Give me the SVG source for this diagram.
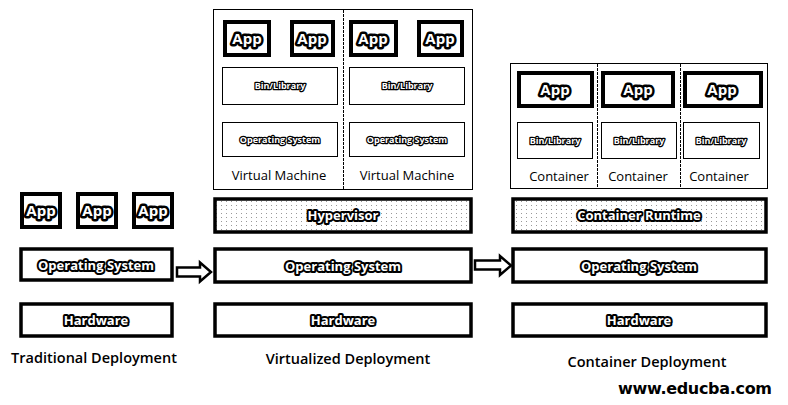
<svg xmlns="http://www.w3.org/2000/svg" width="788" height="405" viewBox="0 0 788 405">
<style>
.bg{fill:#fff}
.thin{fill:#fff;stroke:#000;stroke-width:1}
.layer{fill:#fff;stroke:#000;stroke-width:3.5}
.dotted{fill:url(#dots);stroke:#000;stroke-width:3.5}
.appbox{fill:#fff;stroke:#000;stroke-width:4}
.lbl{font-family:"Open Sans","Noto Sans",sans-serif;font-weight:bold;fill:#fff;stroke:#000;stroke-linejoin:round;paint-order:stroke;text-anchor:middle}
.big{font-size:13px;stroke-width:4}
.app{font-size:15px;stroke-width:5}
.small{font-size:9px;stroke-width:2.5}
.cap{font-family:"Open Sans","Noto Sans",sans-serif;font-size:13px;fill:#000;text-anchor:middle}
.title{font-family:"Open Sans","Noto Sans",sans-serif;font-size:14.5px;font-weight:600;fill:#000;text-anchor:middle}
.div{stroke:#000;stroke-width:1;stroke-dasharray:3 1}
.arrow{fill:#fff;stroke:#000;stroke-width:2.5;stroke-linejoin:miter}
</style>
<defs>
<pattern id="dots" width="5" height="4" patternUnits="userSpaceOnUse">
<rect width="5" height="4" fill="#fff"/>
<rect x="1" y="1" width="1" height="1" fill="#999"/>
</pattern>
</defs>
<rect class="bg" width="788" height="405"/>

<g id="traditional">
<g id="t-app1"><rect class="appbox" x="22" y="194" width="38" height="33"/><text class="lbl app" x="41" y="216">App</text></g>
<g id="t-app2"><rect class="appbox" x="78" y="194" width="38" height="33"/><text class="lbl app" x="97" y="216">App</text></g>
<g id="t-app3"><rect class="appbox" x="134" y="194" width="38" height="33"/><text class="lbl app" x="153" y="216">App</text></g>
<g id="t-os"><rect class="layer" x="21" y="249" width="151" height="31"/><text class="lbl big" x="96" y="270">Operating System</text></g>
<g id="t-hw"><rect class="layer" x="21" y="304" width="151" height="32"/><text class="lbl big" x="96" y="325">Hardware</text></g>
<text class="title" x="94" y="363">Traditional Deployment</text>
</g>

<g id="virtualized">
<g id="vm-box"><rect class="thin" x="213.5" y="9.5" width="259" height="180"/><line class="div" x1="343.5" y1="10" x2="343.5" y2="189"/></g>
<g id="vm-app1"><rect class="appbox" x="225" y="22" width="44" height="33"/><text class="lbl app" x="247" y="44">App</text></g>
<g id="vm-app2"><rect class="appbox" x="292" y="22" width="41" height="33"/><text class="lbl app" x="312" y="44">App</text></g>
<g id="vm-app3"><rect class="appbox" x="351" y="22" width="45" height="33"/><text class="lbl app" x="373" y="44">App</text></g>
<g id="vm-app4"><rect class="appbox" x="419" y="22" width="43" height="33"/><text class="lbl app" x="440" y="44">App</text></g>
<g id="vm-bin1"><rect class="thin" x="222.5" y="67.5" width="115" height="37"/><text class="lbl small" x="280" y="89">Bin/Library</text></g>
<g id="vm-bin2"><rect class="thin" x="349.5" y="67.5" width="115" height="37"/><text class="lbl small" x="407" y="89">Bin/Library</text></g>
<g id="vm-os1"><rect class="thin" x="222.5" y="122.5" width="115" height="34"/><text class="lbl small" x="280" y="143">Operating System</text></g>
<g id="vm-os2"><rect class="thin" x="349.5" y="122.5" width="115" height="34"/><text class="lbl small" x="407" y="143">Operating System</text></g>
<text class="cap" x="279" y="180">Virtual Machine</text>
<text class="cap" x="407" y="180">Virtual Machine</text>
<g id="v-hyp"><rect class="dotted" x="215" y="199" width="256" height="33"/><text class="lbl big" x="343" y="220">Hypervisor</text></g>
<g id="v-os"><rect class="layer" x="215" y="249" width="256" height="33"/><text class="lbl big" x="343" y="271">Operating System</text></g>
<g id="v-hw"><rect class="layer" x="215" y="304" width="256" height="32"/><text class="lbl big" x="343" y="325">Hardware</text></g>
<text class="title" x="348" y="364">Virtualized Deployment</text>
</g>

<g id="container">
<g id="c-box"><rect class="thin" x="510.5" y="63.5" width="257" height="125"/><line class="div" x1="597.5" y1="64" x2="597.5" y2="188"/><line class="div" x1="680.5" y1="64" x2="680.5" y2="188"/></g>
<g id="c-app1"><rect class="appbox" x="519" y="73" width="73" height="33"/><text class="lbl app" x="555" y="95">App</text></g>
<g id="c-app2"><rect class="appbox" x="603" y="73" width="70" height="33"/><text class="lbl app" x="638" y="95">App</text></g>
<g id="c-app3"><rect class="appbox" x="685" y="73" width="76" height="33"/><text class="lbl app" x="722" y="95">App</text></g>
<g id="c-bin1"><rect class="thin" x="517.5" y="122.5" width="75" height="36"/><text class="lbl small" x="555" y="144">Bin/Library</text></g>
<g id="c-bin2"><rect class="thin" x="601.5" y="122.5" width="75" height="36"/><text class="lbl small" x="639" y="144">Bin/Library</text></g>
<g id="c-bin3"><rect class="thin" x="683.5" y="122.5" width="76" height="36"/><text class="lbl small" x="721" y="144">Bin/Library</text></g>
<text class="cap" x="559" y="181">Container</text>
<text class="cap" x="638" y="181">Container</text>
<text class="cap" x="719" y="181">Container</text>
<g id="c-rt"><rect class="dotted" x="513" y="199" width="253" height="33"/><text class="lbl big" x="639" y="220">Container Runtime</text></g>
<g id="c-os"><rect class="layer" x="513" y="249" width="253" height="33"/><text class="lbl big" x="639" y="271">Operating System</text></g>
<g id="c-hw"><rect class="layer" x="513" y="304" width="253" height="32"/><text class="lbl big" x="639" y="325">Hardware</text></g>
<text class="title" x="647" y="367">Container Deployment</text>
</g>

<g id="connectors">
<path class="arrow" d="M177,267.5 H200 V262.5 L211,272 L200,281.5 V276.5 H177 Z"/>
<path class="arrow" d="M475,260.5 H500 V256 L511,265.5 L500,275 V269.5 H475 Z"/>
</g>

<text x="695" y="394" font-family="DejaVu Sans,Verdana,sans-serif" font-weight="bold" font-size="16" text-anchor="middle" fill="#000" textLength="154">www.educba.com</text>
</svg>
